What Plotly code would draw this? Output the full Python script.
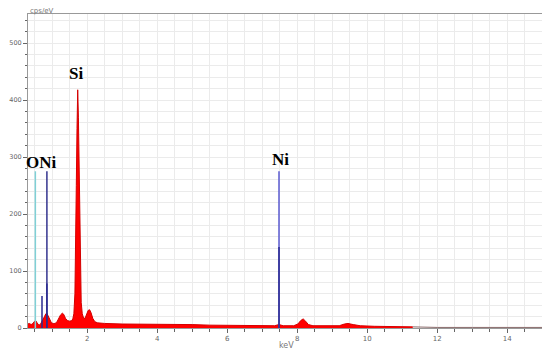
import plotly.graph_objects as go

# EDS spectrum
energy_kev = [0.19, 0.25, 0.30, 0.35, 0.40, 0.45, 0.50, 0.53, 0.57, 0.62, 0.66, 0.70,
              0.74, 0.78, 0.82, 0.85, 0.88, 0.93, 0.98, 1.03, 1.08, 1.13, 1.18, 1.24,
              1.29, 1.33, 1.38, 1.44, 1.50, 1.56, 1.59, 1.62, 1.65, 1.67, 1.69, 1.71,
              1.73, 1.75, 1.77, 1.79, 1.81, 1.83, 1.86, 1.90, 1.94, 1.98, 2.03, 2.07,
              2.11, 2.16, 2.22, 2.30, 2.50, 3.0, 3.5, 4.0, 4.5, 5.0, 5.5, 6.0, 6.5, 7.0,
              7.35, 7.48, 7.6, 7.9, 8.02, 8.10, 8.17, 8.24, 8.32, 8.45, 8.8, 9.2, 9.35,
              9.45, 9.6, 9.8, 10.2, 10.8, 11.3]
counts = [7, 9, 7, 8, 6, 8, 12, 13, 9, 5, 6, 10,
          14, 20, 25, 26, 22, 14, 9, 8, 8, 10, 16, 23,
          26, 24, 17, 13, 12, 13, 16, 25, 60, 130, 250, 350,
          418, 370, 280, 170, 90, 45, 25, 17, 17, 24, 31, 32,
          27, 17, 11, 9, 8, 7, 7, 6, 6, 6, 5, 5, 5, 4,
          4, 6, 4, 4, 7, 13, 16, 12, 6, 4, 4, 4, 7,
          8, 6, 4, 3, 3, 2]
tail_kev = [11.3, 12.0, 13.0, 14.0, 15.05]
tail_counts = [2, 1, 1, 1, 1]

# element marker lines
marker_kev = [0.52, 0.85, 7.48]
marker_height = [275, 275, 275]
marker_colors = ["#7fd0d6", "#34348f", "#5a5ad0"]
# spectrum component lines
comp_kev = [0.71, 0.85, 7.48]
comp_height = [56, 78, 142]

labels = ["Si", "ONi", "Ni"]
label_kev = [1.69, 0.70, 7.53]
label_y = [446, 291, 295]

fig = go.Figure()
fig.add_trace(go.Scatter(x=tail_kev, y=tail_counts, mode="lines",
                         line=dict(color="#8a6a6a", width=1), hoverinfo="skip"))
fig.add_trace(go.Scatter(x=energy_kev, y=counts, mode="lines", fill="tozeroy",
                         line=dict(color="#d40000", width=1), fillcolor="#ff0000"))

for e, h, c in zip(marker_kev, marker_height, marker_colors):
    fig.add_trace(go.Scatter(x=[e, e], y=[0, h], mode="lines",
                             line=dict(color=c, width=1.5)))
for e, h in zip(comp_kev, comp_height):
    fig.add_trace(go.Scatter(x=[e, e], y=[0, h], mode="lines",
                             line=dict(color="#2a2a90", width=1.5)))

for t, x, y in zip(labels, label_kev, label_y):
    fig.add_annotation(x=x, y=y, text=f"<b>{t}</b>", showarrow=False,
                       font=dict(family="Liberation Serif", size=17, color="black"))

fig.add_annotation(x=0, y=1, xref="paper", yref="paper", xanchor="left", yanchor="bottom",
                   text="cps/eV", showarrow=False, yshift=-3,
                   font=dict(family="DejaVu Sans", size=7, color="#777"))
fig.add_annotation(x=0.5, y=0, xref="paper", yref="paper", yanchor="top",
                   text="keV", showarrow=False, yshift=-11,
                   font=dict(family="DejaVu Sans", size=8, color="#777"))

grid = "#ebebeb"
# page body has an 8px margin, so the figure is a bit smaller than the window
fig.update_layout(
    width=542, height=345,
    margin=dict(l=20, r=6, t=6, b=25),
    paper_bgcolor="white", plot_bgcolor="white",
    showlegend=False,
    xaxis=dict(range=[0.31, 15.05], tick0=0, dtick=2, ticks="outside", ticklen=4,
               tickcolor="#666", showgrid=True, gridcolor=grid, automargin=False,
               showline=True, linecolor="#999", mirror=True, zeroline=False,
               tickfont=dict(family="DejaVu Sans", size=7, color="#666"),
               minor=dict(dtick=0.5, tick0=0, ticks="outside", ticklen=3,
                          tickcolor="#666", showgrid=True, gridcolor=grid)),
    yaxis=dict(range=[0, 551], tick0=0, dtick=100, ticks="outside", ticklen=4,
               tickcolor="#666", showgrid=True, gridcolor=grid, automargin=False,
               showline=True, linecolor="#999", mirror=True, zeroline=False,
               tickfont=dict(family="DejaVu Sans", size=6.5, color="#666"),
               minor=dict(dtick=20, tick0=0, ticks="outside", ticklen=2.5,
                          tickcolor="#666", showgrid=True, gridcolor=grid)),
)

fig.write_html("out.html")
